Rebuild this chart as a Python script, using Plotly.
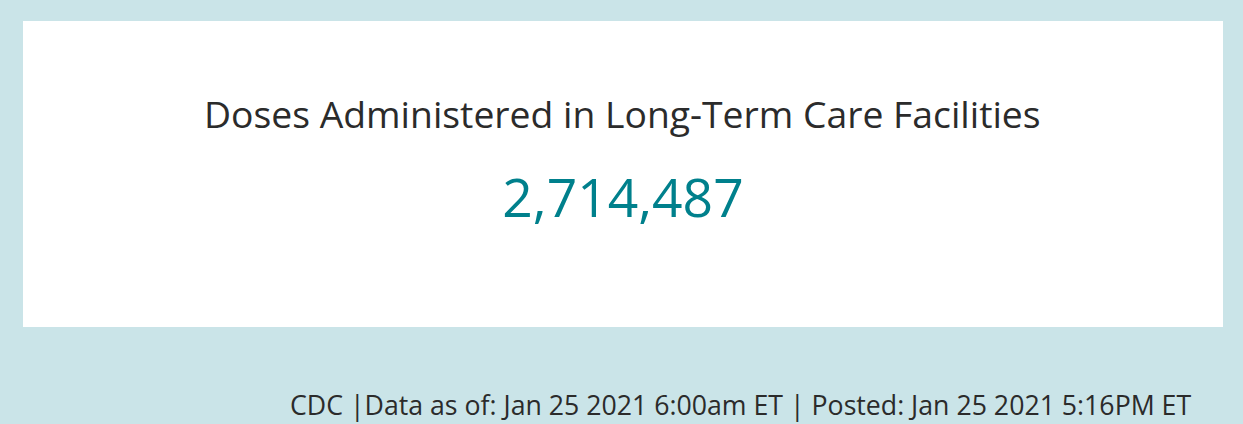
import plotly.graph_objects as go

W, H = 1243, 424
title_text = "Doses Administered in Long-Term Care Facilities"
dose_value = 2714487
footer_text = "CDC |Data as of: Jan 25 2021 6:00am ET | Posted: Jan 25 2021 5:16PM ET"

FONT = "Open Sans"
BG = "#CAE4E8"
TEAL = "#00808C"

def px(x):
    return x / W

def py(y):
    return 1 - y / H

fig = go.Figure()
fig.add_trace(go.Indicator(
    mode="number",
    value=dose_value,
    number=dict(valueformat=",d", font=dict(family=FONT, size=53.4, color=TEAL)),
    domain=dict(x=[px(23), px(1223)], y=[py(238), py(154)]),
))

fig.add_shape(type="rect", xref="paper", yref="paper",
              x0=px(23), x1=px(1223), y0=py(327), y1=py(21),
              fillcolor="white", line=dict(width=0), layer="below")

fig.add_annotation(text=title_text, xref="paper", yref="paper",
                   x=px(622), y=py(113), xanchor="center", yanchor="middle",
                   showarrow=False, font=dict(family=FONT, size=37.3, color="#2b2b2b"))
fig.add_annotation(text=footer_text, xref="paper", yref="paper",
                   x=px(1193), y=py(404), xanchor="right", yanchor="middle",
                   showarrow=False, font=dict(family=FONT, size=26.7, color="#2b2b2b"))

fig.update_layout(width=W, height=H, margin=dict(l=0, r=0, t=0, b=0),
                  paper_bgcolor=BG, plot_bgcolor=BG)
fig.write_html("out.html", config={"displayModeBar": False},
               post_script="document.body.style.margin='0';document.body.style.background='" + BG + "';")
